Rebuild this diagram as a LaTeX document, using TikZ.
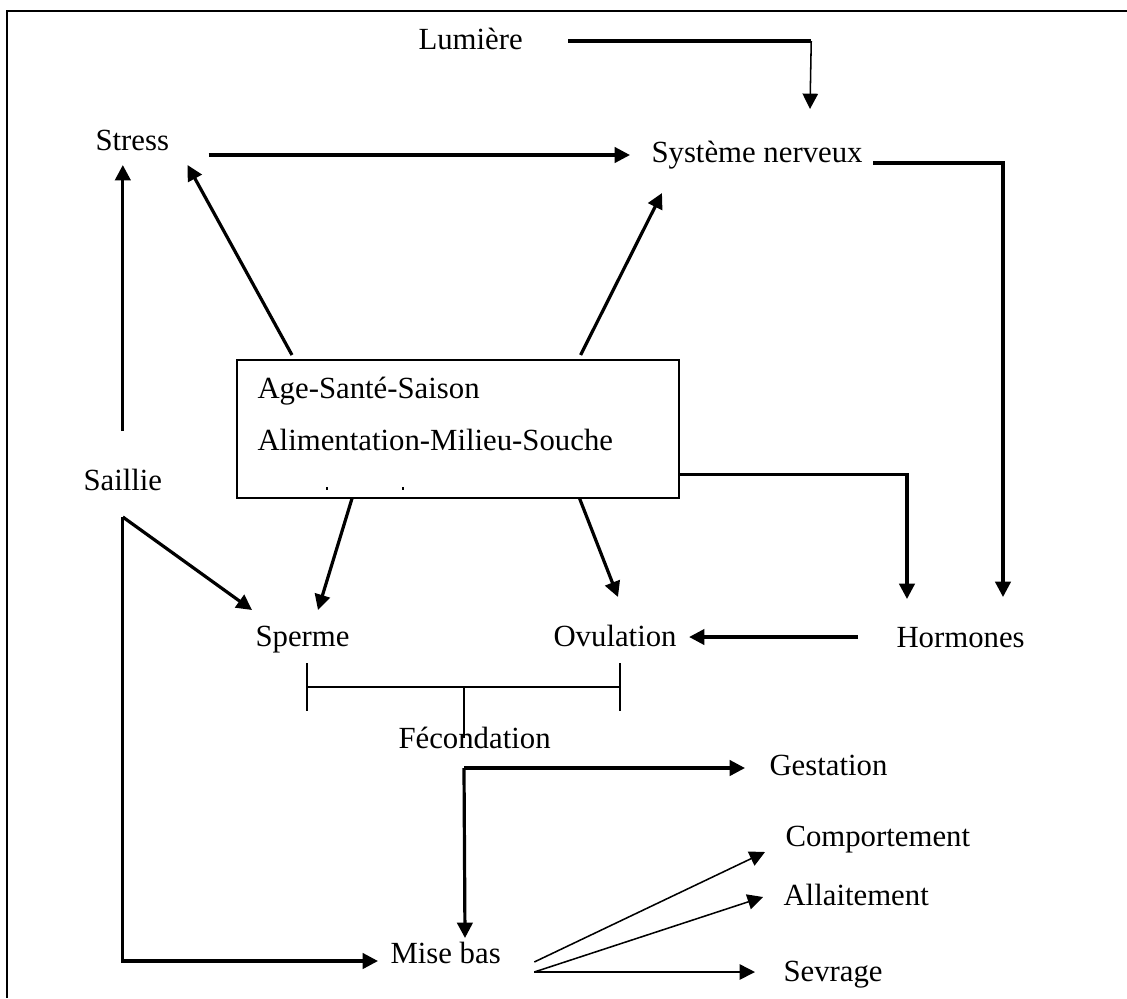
\documentclass[tikz,border=0pt]{standalone}
\usepackage{fontspec}
\setmainfont{Liberation Serif}
\usetikzlibrary{arrows.meta,calc}

\begin{document}
\begin{tikzpicture}[x=0.39pt,y=-0.39pt,
    lbl/.style={inner sep=0pt,anchor=base west,font=\fontsize{12}{14}\selectfont},
    fatline/.style={line width=1.25pt},
    slimline/.style={line width=0.6pt},
    fatarrow/.style={fatline,-{Triangle[length=6pt,width=6pt]}},
    slimarrow/.style={slimline,-{Triangle[length=6pt,width=6pt]}}]
    \useasboundingbox (0,0) rectangle (1127,998);
    \draw[line width=0.8pt] (1127,11) -- (7,11) -- (7,998);

    \node[lbl] (lum) at (418,49) {Lumière};
    \node[lbl] (sys) at (651,162) {Système nerveux};
    \node[lbl] (stress) at (95,150) {Stress};
    \node[lbl] (saillie) at (83,490) {Saillie};
    \node[draw,line width=0.6pt,inner sep=0pt,anchor=north west,
          minimum width=172.4pt,minimum height=53.8pt] (box) at (236,359) {};
    \node[lbl] (facA) at (257,398) {Age-Santé-Saison};
    \node[lbl] (facB) at (257,450) {Alimentation-Milieu-Souche};
    \node[lbl] (sperme) at (255,646) {Sperme};
    \node[lbl] (ovul) at (553,646) {Ovulation};
    \node[lbl] (horm) at (896,647) {Hormones};
    \node[lbl] (fec) at (398,748) {Fécondation};
    \node[lbl] (gest) at (769,775) {Gestation};
    \node[lbl] (misebas) at (390,963) {Mise bas};
    \node[lbl] (comp) at (785,846) {Comportement};
    \node[lbl] (allait) at (783,905) {Allaitement};
    \node[lbl] (sevr) at (783,981) {Sevrage};

    \fill ($(box.south west)+(90,-12)$) rectangle ++(1.5,3);
    \fill ($(box.south west)+(166,-12)$) rectangle ++(1.5,3);

    \coordinate (lumcorner) at ($(lum.base east)+(288,-8)$);
    \draw[fatline] ($(lum.base east)+(45,-8)$) -- (lumcorner);
    \draw[slimarrow] (lumcorner) -- ($(sys.base west)+(159,-53)$);

    \draw[fatarrow] ($(stress.base east)+(39,5)$) -- ($(sys.base west)+(-21,-7)$);
    \draw[fatarrow] ($(sys.base east)+(10,1)$) -| ($(horm.base west)+(107,-50)$);
    \draw[fatarrow] ($(box.north west)+(56,-4)$) -- ($(stress.base east)+(18,15)$);
    \draw[fatarrow] ($(box.north east)+(-99,-4)$) -- ($(sys.base west)+(11,31)$);

    \draw[fatarrow] ($(saillie.north)+(0,-37)$) -- ($(saillie.north |- stress.base)+(0,15)$);
    \coordinate (saillieout) at ($(saillie.base)+(0,27)$);
    \draw[fatarrow] (saillieout) -- ($(sperme.base west)+(-3,-36)$);
    \draw[fatarrow] (saillieout) |- ($(misebas.base west)+(-12,-2)$);

    \draw[fatarrow] ($(box.south west)+(116,0)$) -- ($(sperme.base west)+(63,-36)$);
    \draw[fatarrow] ($(box.south east)+(-100,0)$) -- ($(ovul.base west)+(65,-49)$);
    \draw[fatarrow] ($(box.south east)+(0,-24)$) -| ($(horm.base west)+(11,-48)$);
    \draw[fatarrow] ($(horm.base west)+(-38,-10)$) -- ($(ovul.base east)+(12,-9)$);

    \coordinate (fecL) at ($(sperme.base west)+(52,41)$);
    \coordinate (fecR) at ($(ovul.base west)+(67,41)$);
    \draw[slimline] (fecL) -- (fecR);
    \draw[slimline] ($(fecL)+(0,-24)$) -- ($(fecL)+(0,24)$);
    \draw[slimline] ($(fecR)+(0,-24)$) -- ($(fecR)+(0,24)$);
    \draw[slimline] ($(fec.base west)+(66,-10)$) -- ++(0,-51);

    \coordinate (fecout) at ($(fec.base west)+(66,20)$);
    \draw[fatarrow] (fecout) -- ($(gest.base west)+(-24,-7)$);
    \draw[fatarrow] (fecout) -- ($(misebas.base west)+(75,-25)$);

    \draw[slimarrow] ($(misebas.base east)+(33,-1)$) -- ($(comp.base west)+(-20,6)$);
    \draw[slimarrow] ($(misebas.base east)+(33,9)$) -- ($(allait.base west)+(-20,-8)$);
    \draw[slimarrow] ($(misebas.base east)+(33,9)$) -- ($(sevr.base west)+(-28,-9)$);
\end{tikzpicture}
\end{document}
